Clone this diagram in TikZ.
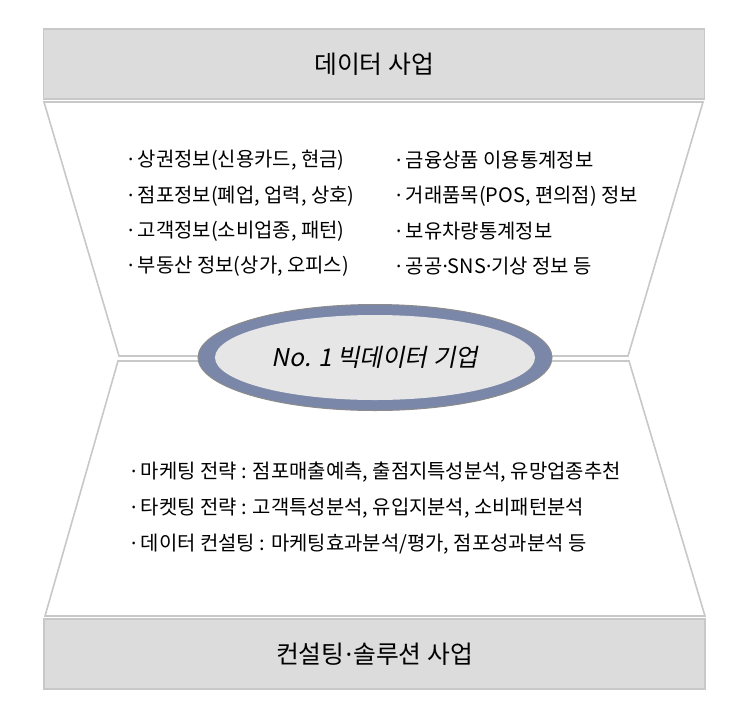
\documentclass[tikz,border=0pt]{standalone}
\usepackage{fontspec}
\setmainfont{Noto Sans CJK KR}
\newfontfamily\krit[FakeSlant=0.2]{Noto Sans CJK KR}
\newfontfamily\dotfont{Noto Sans}
\newcommand\md{{\dotfont ·}}
\usetikzlibrary{shapes.geometric}
\definecolor{boxfill}{HTML}{DCDCDC}
\definecolor{boxline}{HTML}{C8C8C8}
\definecolor{ringblue}{HTML}{7A87A8}
\definecolor{ringedge}{HTML}{8C8C8C}
\definecolor{innerfill}{HTML}{E6E6E6}
\tikzset{
  titlebox/.style={draw=boxline, line width=1.2pt, fill=boxfill, minimum width=661pt, minimum height=70pt, inner sep=0pt, font=\fontsize{24.8}{28}\selectfont},
  trap/.style={draw=boxline, line width=1.6pt, fill=white, line join=miter},
  item/.style={anchor=west, inner sep=0pt, font=\fontsize{19.9}{23}\selectfont},
}
\begin{document}
\begin{tikzpicture}[x=1pt,y=-1pt]
\useasboundingbox (0,0) rectangle (748,716);
\node[titlebox] (top) at (374,64) {데이터 사업};
\node[titlebox] (bot) at (374.5,654) {컨설팅\kern1pt\md\kern1pt 솔루션 사업};
% upper trapezoid
\coordinate (ut1) at (44,102);
\coordinate (ut2) at (703,102);
\coordinate (ut3) at (628,356);
\coordinate (ut4) at (119,356);
\draw[trap] (ut1) -- (ut2) -- (ut3) -- (ut4) -- cycle;
% lower trapezoid
\coordinate (lt1) at (118,361);
\coordinate (lt2) at (629,361);
\coordinate (lt3) at (705,616);
\coordinate (lt4) at (45,616);
\draw[trap] (lt1) -- (lt2) -- (lt3) -- (lt4) -- cycle;
% ellipse
\node[ellipse, draw=ringedge, line width=1pt, fill=ringblue, minimum width=354pt, minimum height=106pt, inner sep=0pt] (ring) at (375,357.5) {};
\node[ellipse, fill=innerfill, minimum width=320pt, minimum height=85pt, inner sep=0pt, font=\fontsize{24.5}{28}\selectfont\krit] (core) at (ring.center) {No. 1 빅데이터 기업};
% upper list
\node[item] (a1) at (128,160) {\md{} 상권정보(신용카드, 현금)};
\node[item] (a2) at (128,196) {\md{} 점포정보(폐업, 업력, 상호)};
\node[item] (a3) at (128,231) {\md{} 고객정보(소비업종, 패턴)};
\node[item] (a4) at (128,266) {\md{} 부동산 정보(상가, 오피스)};
\node[item] (b1) at (396,160) {\md{} 금융상품 이용통계정보};
\node[item] (b2) at (396,196) {\md{} 거래품목(POS, 편의점) 정보};
\node[item] (b3) at (396,231) {\md{} 보유차량통계정보};
\node[item] (b4) at (396,266) {\md{} 공공\md SNS\md 기상 정보 등};
% lower list
\node[item] (c1) at (131,472) {\md{} 마케팅 전략 : 점포매출예측, 출점지특성분석, 유망업종추천};
\node[item] (c2) at (131,508) {\md{} 타켓팅 전략 : 고객특성분석, 유입지분석, 소비패턴분석};
\node[item] (c3) at (131,544) {\md{} 데이터 컨설팅 : 마케팅효과분석/평가, 점포성과분석 등};
\end{tikzpicture}
\end{document}
